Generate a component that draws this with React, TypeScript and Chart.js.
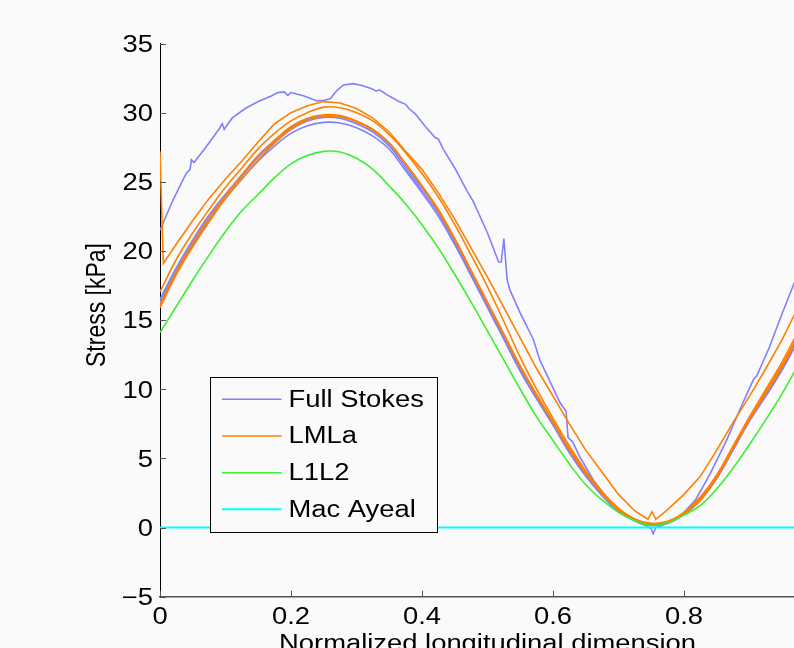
import React, { useEffect, useRef } from "react";
import { Chart, registerables } from "chart.js";

Chart.register(...registerables);

// ---------- data ----------
const xGrid = [
  0, 0.025, 0.05, 0.075, 0.1, 0.125, 0.15, 0.175, 0.2, 0.225, 0.25, 0.275, 0.3, 0.325, 0.35, 0.375, 0.4,
  0.425, 0.45, 0.475, 0.5, 0.525, 0.55, 0.575, 0.6, 0.625, 0.65, 0.675, 0.7, 0.725, 0.75, 0.775, 0.8,
  0.825, 0.85, 0.875, 0.9, 0.925, 0.95, 0.975, 1.0,
];

// Full Stokes (noisy run)
const fsNoisyX = [
  0, 0.02, 0.04, 0.046, 0.048, 0.052, 0.07, 0.09, 0.095, 0.098, 0.11, 0.13, 0.15, 0.17, 0.18, 0.19, 0.195,
  0.2, 0.22, 0.24, 0.25, 0.26, 0.27, 0.28, 0.295, 0.31, 0.325, 0.33, 0.335, 0.35, 0.365, 0.375, 0.38, 0.39,
  0.405, 0.42, 0.425, 0.432, 0.45, 0.468, 0.478, 0.5, 0.517, 0.521, 0.525, 0.53, 0.534, 0.55, 0.57, 0.58,
  0.6, 0.611, 0.62, 0.623, 0.63, 0.641, 0.662, 0.68, 0.692, 0.712, 0.733, 0.745, 0.75, 0.753, 0.757, 0.763,
  0.775, 0.794, 0.81, 0.819, 0.84, 0.865, 0.885, 0.906, 0.911, 0.93, 0.95, 0.968, 0.985, 1.0,
];
const fsNoisyY = [
  21.5, 23.7, 25.6, 25.9, 26.6, 26.4, 27.5, 28.8, 29.2, 28.8, 29.6, 30.3, 30.8, 31.2, 31.45, 31.5, 31.25,
  31.45, 31.2, 30.85, 30.9, 31.0, 31.6, 32.0, 32.1, 31.95, 31.7, 31.55, 31.65, 31.2, 30.8, 30.6, 30.3, 29.9,
  29.0, 28.2, 28.1, 27.4, 26.0, 24.4, 23.6, 21.3, 19.2, 19.2, 20.9, 17.9, 17.2, 15.5, 13.6, 12.1,
  10.1, 9.0, 8.4, 6.5, 6.2, 5.1, 3.4, 2.3, 1.5, 0.8, 0.3, 0.1, -0.1, -0.45, 0.0, 0.1,
  0.35, 0.8, 1.6, 2.1, 3.9, 6.3, 8.5, 10.7, 10.95, 13.0, 15.5, 17.65, 19.7, 21.3,
];
// Full Stokes (smooth runs)
const fsMain = [
  16.3, 18.6, 20.6, 22.4, 24.0, 25.4, 26.8, 27.9, 28.8, 29.4, 29.65, 29.6, 29.2, 28.6, 27.6, 26.0, 24.4,
  22.7, 20.6, 18.3, 16.0, 13.7, 11.4, 9.4, 7.5, 5.5, 3.8, 2.4, 1.2, 0.55, 0.2, 0.35, 1.0,
  2.0, 3.6, 5.7, 7.8, 9.6, 11.5, 13.7, 16.0,
];
const fsLow = [
  16.2, 18.4, 20.4, 22.2, 23.8, 25.2, 26.5, 27.6, 28.5, 29.05, 29.3, 29.25, 28.9, 28.3, 27.35, 25.8, 24.2,
  22.5, 20.45, 18.2, 15.9, 13.6, 11.3, 9.3, 7.4, 5.4, 3.7, 2.3, 1.15, 0.5, 0.15, 0.3, 0.95,
  1.95, 3.55, 5.6, 7.7, 9.5, 11.4, 13.6, 15.9,
];
const fsMid = [
  16.5, 18.8, 20.8, 22.6, 24.1, 25.5, 26.9, 28.0, 28.9, 29.5, 29.75, 29.7, 29.35, 28.75, 27.75, 26.2, 24.6,
  22.9, 20.8, 18.5, 16.2, 13.9, 11.6, 9.6, 7.6, 5.6, 3.9, 2.5, 1.3, 0.6, 0.25, 0.4, 1.05,
  2.1, 3.7, 5.8, 7.9, 9.8, 11.7, 13.9, 16.2,
];

// LMLa
const lmlaSpikeX = [
  0, 0.005, 0.025, 0.05, 0.075, 0.1, 0.125, 0.15, 0.175, 0.2, 0.225, 0.25, 0.275, 0.3, 0.325, 0.35, 0.375,
  0.4, 0.425, 0.45, 0.475, 0.5, 0.525, 0.55, 0.575, 0.6, 0.625, 0.65, 0.675, 0.7, 0.725, 0.745, 0.751,
  0.757, 0.775, 0.8, 0.825, 0.85, 0.875, 0.9, 0.925, 0.95, 0.975, 1.0,
];
const lmlaSpikeY = [
  27.2, 19.1, 20.5, 22.2, 23.8, 25.2, 26.5, 27.9, 29.2, 30.0, 30.5, 30.8, 30.7, 30.3, 29.6, 28.6, 27.2,
  25.9, 24.2, 22.3, 20.2, 18.1, 15.9, 13.7, 11.5, 9.5, 7.5, 5.6, 4.0, 2.4, 1.2, 0.6, 1.15,
  0.6, 1.3, 2.4, 3.7, 5.6, 7.6, 9.5, 11.5, 13.6, 16.0, 18.3,
];
const lmlaB = [
  17.05, 19.4, 21.3, 23.0, 24.6, 26.0, 27.4, 28.5, 29.4, 30.0, 30.4, 30.35, 30.0, 29.4, 28.4, 27.1, 25.6,
  23.9, 21.9, 19.7, 17.4, 14.9, 12.3, 10.0, 7.9, 5.9, 4.1, 2.6, 1.4, 0.6, 0.3, 0.45, 1.1,
  2.2, 3.8, 5.9, 8.0, 10.0, 12.0, 14.3, 16.9,
];
const lmlaC = [
  16.1, 18.5, 20.6, 22.4, 24.0, 25.5, 26.9, 28.0, 29.0, 29.6, 29.85, 29.8, 29.4, 28.8, 27.8, 26.3, 24.7,
  23.0, 20.9, 18.6, 16.3, 14.0, 11.7, 9.6, 7.7, 5.7, 4.0, 2.5, 1.3, 0.6, 0.25, 0.4, 1.05,
  2.1, 3.7, 5.8, 7.9, 9.8, 11.8, 14.0, 16.3,
];
const lmlaD = [
  15.9, 18.3, 20.3, 22.1, 23.8, 25.2, 26.6, 27.8, 28.8, 29.45, 29.7, 29.7, 29.35, 28.75, 27.8, 26.3, 24.7,
  22.9, 20.8, 18.5, 16.2, 13.9, 11.6, 9.5, 7.6, 5.6, 3.9, 2.45, 1.25, 0.55, 0.2, 0.35, 1.0,
  2.0, 3.6, 5.7, 7.8, 9.7, 11.6, 13.8, 16.0,
];

// L1L2
const l1l2 = [
  14.1, 16.0, 17.9, 19.7, 21.4, 22.9, 24.1, 25.3, 26.3, 26.9, 27.2, 27.15, 26.7, 25.9, 24.7, 23.4, 21.9,
  20.2, 18.3, 16.3, 14.2, 12.1, 10.0, 8.0, 6.3, 4.6, 3.1, 2.0, 1.1, 0.5, 0.15, 0.35, 0.9,
  1.6, 2.8, 4.3, 6.0, 7.8, 9.7, 11.8, 14.0,
];

// Mac Ayeal
const macAyealX = [0, 1];
const macAyealY = [0, 0];

const legendLabels = ["Full Stokes", "LMLa", "L1L2", "Mac Ayeal"];
const xTickValues = [0, 0.2, 0.4, 0.6, 0.8, 1];
const xTickLabels = ["0", "0.2", "0.4", "0.6", "0.8", "1"];
const yTickValues = [-5, 0, 5, 10, 15, 20, 25, 30, 35];
const yTickLabels = ["\u22125", "0", "5", "10", "15", "20", "25", "30", "35"];
const xTitle = "Normalized longitudinal dimension";
const yTitle = "Stress [kPa]";

// ---------- styles ----------
const C_FS = "#8080ff";
const C_LMLA = "#ff8000";
const C_L1L2 = "#3cf030";
const C_MAC = "#00ffff";
const legendColors = [C_FS, C_LMLA, C_L1L2, C_MAC];
const BG = "#fafafa";
const FONT = '23px "Liberation Sans", Arial, sans-serif';
const HS = 1.19;
const CW = 830;
const CH = 700;

const pts = (xs: number[], ys: number[]) => xs.map((x, i) => ({ x, y: ys[i] }));

function drawText(ctx: CanvasRenderingContext2D, text: string, x: number, y: number,
  align: CanvasTextAlign, baseline: CanvasTextBaseline) {
  ctx.save();
  ctx.translate(x, y);
  ctx.scale(HS, 1);
  ctx.font = FONT;
  ctx.fillStyle = "#000";
  ctx.textAlign = align;
  ctx.textBaseline = baseline;
  ctx.fillText(text, 0, 0);
  ctx.restore();
}

const decorPlugin = {
  id: "decor",
  beforeDraw(chart: any) {
    const ctx = chart.ctx;
    ctx.save();
    ctx.fillStyle = BG;
    ctx.fillRect(0, 0, chart.width, chart.height);
    ctx.restore();
  },
  afterDraw(chart: any) {
    const ctx: CanvasRenderingContext2D = chart.ctx;
    const xs = chart.scales.x;
    const ys = chart.scales.y;
    const area = chart.chartArea;
    // tick marks (inside)
    ctx.save();
    ctx.strokeStyle = "#555";
    ctx.lineWidth = 1;
    yTickValues.forEach((v) => {
      const py = Math.round(ys.getPixelForValue(v)) + 0.5;
      ctx.beginPath();
      ctx.moveTo(area.left, py);
      ctx.lineTo(area.left + 6, py);
      ctx.stroke();
    });
    xTickValues.forEach((v) => {
      const px = Math.round(xs.getPixelForValue(v)) + 0.5;
      ctx.beginPath();
      ctx.moveTo(px, area.bottom);
      ctx.lineTo(px, area.bottom - 6);
      ctx.stroke();
    });
    ctx.restore();
    // tick labels
    yTickValues.forEach((v, i) => {
      drawText(ctx, yTickLabels[i], area.left - 7, ys.getPixelForValue(v) + 2, "right", "middle");
    });
    xTickValues.forEach((v, i) => {
      drawText(ctx, xTickLabels[i], xs.getPixelForValue(v), area.bottom + 27, "center", "alphabetic");
    });
    // axis titles
    ctx.save();
    ctx.translate(97, 305);
    ctx.rotate(-Math.PI / 2);
    ctx.scale(1, HS);
    ctx.font = FONT;
    ctx.fillStyle = "#000";
    ctx.textAlign = "center";
    ctx.textBaseline = "middle";
    ctx.fillText(yTitle, 0, 0);
    ctx.restore();
    drawText(ctx, xTitle, (area.left + area.right) / 2, 651, "center", "alphabetic");
    // legend
    const lx = 210.5, ly = 377.5, lw = 227, lh = 155;
    ctx.save();
    ctx.fillStyle = BG;
    ctx.fillRect(lx, ly, lw, lh);
    ctx.strokeStyle = "#000";
    ctx.lineWidth = 1;
    ctx.strokeRect(lx, ly, lw, lh);
    const rows = [399.3, 436, 472.7, 509.3];
    legendLabels.forEach((lab, i) => {
      ctx.strokeStyle = legendColors[i];
      ctx.lineWidth = i === 3 ? 2 : 1.6;
      ctx.beginPath();
      ctx.moveTo(222, rows[i]);
      ctx.lineTo(281.5, rows[i]);
      ctx.stroke();
      drawText(ctx, lab, 288.5, rows[i] + 1, "left", "middle");
    });
    ctx.restore();
  },
};

export default function App() {
  const ref = useRef<HTMLCanvasElement | null>(null);
  useEffect(() => {
    if (!ref.current) return;
    const ds = (label: string, data: any[], color: string, order: number, smooth: boolean, width = 1.6) => ({
      label,
      data,
      borderColor: color,
      backgroundColor: color,
      borderWidth: width,
      pointRadius: 0,
      fill: false,
      order,
      tension: smooth ? 0.4 : 0,
    });
    const chart = new Chart(ref.current, {
      type: "line",
      data: {
        datasets: [
          ds("Mac Ayeal", pts(macAyealX, macAyealY), C_MAC, 0, false, 2),
          ds("L1L2", pts(xGrid, l1l2), C_L1L2, 1, true),
          ds("LMLa", pts(lmlaSpikeX, lmlaSpikeY), C_LMLA, 2, false),
          ds("LMLa", pts(xGrid, lmlaB), C_LMLA, 2, true),
          ds("LMLa", pts(xGrid, lmlaC), C_LMLA, 2, true),
          ds("LMLa", pts(xGrid, lmlaD), C_LMLA, 2, true),
          ds("Full Stokes", pts(xGrid, fsMain), C_FS, 3, true),
          ds("Full Stokes", pts(xGrid, fsLow), C_FS, 3, true),
          ds("Full Stokes", pts(xGrid, fsMid), C_FS, 3, true),
          ds("Full Stokes", pts(fsNoisyX, fsNoisyY), C_FS, 3, false),
        ] as any,
      },
      options: {
        animation: false,
        responsive: false,
        devicePixelRatio: 1,
        layout: { padding: { left: 0, top: 43.5, right: 15, bottom: 0 } },
        plugins: { legend: { display: false }, tooltip: { enabled: false } },
        scales: {
          x: {
            type: "linear",
            min: 0,
            max: 1,
            grid: { display: false, drawTicks: false },
            border: { display: true, color: "#555", width: 1.5 },
            ticks: { display: false },
            afterFit: (s: any) => { s.height = CH - 596.7; },
          },
          y: {
            type: "linear",
            min: -5,
            max: 35,
            grid: { display: false, drawTicks: false },
            border: { display: true, color: "#000", width: 1 },
            ticks: { display: false },
            afterFit: (s: any) => { s.width = 160; },
          },
        },
      } as any,
      plugins: [decorPlugin],
    });
    return () => chart.destroy();
  }, []);
  return (
    <div style={{ position: "fixed", left: 0, top: 0, width: 794, height: 648, overflow: "hidden", background: BG }}>
      <canvas ref={ref} width={CW} height={CH} style={{ display: "block", width: CW, height: CH }} />
    </div>
  );
}
